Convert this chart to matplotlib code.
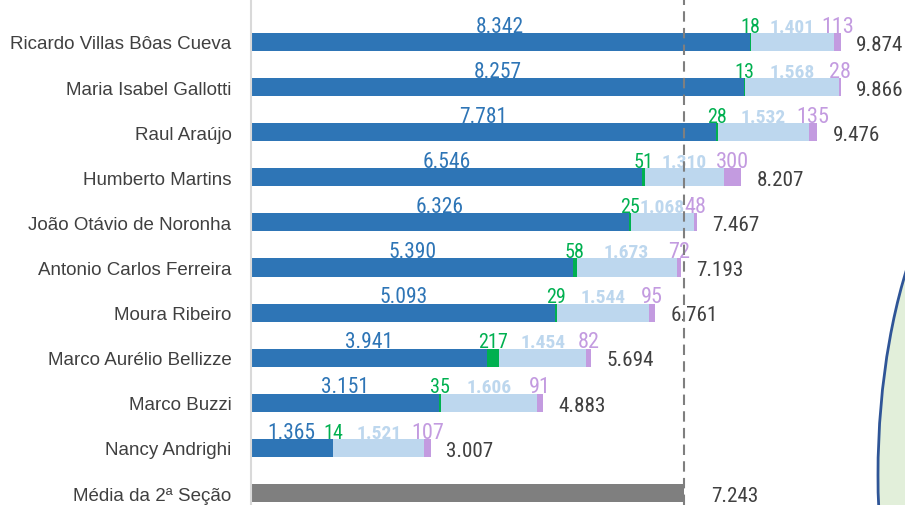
import matplotlib.pyplot as plt
from matplotlib import font_manager
from matplotlib.patches import Ellipse
import numpy as np

plt.rcParams['font.family'] = ['Liberation Sans', 'DejaVu Sans']

names = ["Ricardo Villas Bôas Cueva", "Maria Isabel Gallotti", "Raul Araújo",
         "Humberto Martins", "João Otávio de Noronha", "Antonio Carlos Ferreira",
         "Moura Ribeiro", "Marco Aurélio Bellizze", "Marco Buzzi", "Nancy Andrighi"]
avg_name = "Média da 2ª Seção"

blue = [8342, 8257, 7781, 6546, 6326, 5390, 5093, 3941, 3151, 1365]
green = [18, 13, 28, 51, 25, 58, 29, 217, 35, 14]
light = [1401, 1568, 1532, 1310, 1068, 1673, 1544, 1454, 1606, 1521]
purple = [113, 28, 135, 300, 48, 72, 95, 82, 91, 107]
totals = [9874, 9866, 9476, 8207, 7467, 7193, 6761, 5694, 4883, 3007]
media = 7243

C_BLUE = '#2E75B6'
C_GREEN = '#00B050'
C_LIGHT = '#BDD7EE'
C_PURPLE = '#C39BE0'
C_TEXT = '#404040'


def fmt(v):
    return f"{v:,}".replace(",", ".")


# look for a narrow face for the data labels (Excel used Arial Narrow)
def find_narrow(bold=False):
    files = [f.fname for f in font_manager.fontManager.ttflist]
    keys = ['liberationsansnarrow', 'arialnarrow', 'robotocondensed',
            'opensanscondensed', 'dejavusanscondensed']
    for k in keys:
        for fn in files:
            low = fn.lower().replace('-', '').replace('_', '')
            base = low.rsplit('/', 1)[-1]
            if k in base and ('bold' in base) == bold and 'italic' not in base \
                    and 'oblique' not in base and 'light' not in base:
                return fn
    return None


nf = find_narrow()
nfb = find_narrow(bold=True) or nf
if nf:
    lab = font_manager.FontProperties(fname=nf)
    labb = font_manager.FontProperties(fname=nfb)
    s_tot, s_blue, s_green, s_light, s_purp = 15.2, 15.5, 14.5, 14, 16
else:
    lab = font_manager.FontProperties(family='Liberation Sans')
    labb = font_manager.FontProperties(family='Liberation Sans', weight='bold')
    s_tot, s_blue, s_green, s_light, s_purp = 13, 13, 12, 11, 13

fig = plt.figure(figsize=(9.05, 5.06), dpi=100)
ax = fig.add_axes([251 / 905, 0, 1 - 251 / 905, 1])

y = np.arange(len(names))
h = 0.4
b = np.array(blue)
g = np.array(green)
l = np.array(light)
p = np.array(purple)

ax.barh(y, b, height=h, color=C_BLUE)
ax.barh(y, g, left=b, height=h, color=C_GREEN)
ax.barh(y, l, left=b + g, height=h, color=C_LIGHT)
ax.barh(y, p, left=b + g + l, height=h, color=C_PURPLE)
ax.barh([len(names)], [media], height=h, color='#7F7F7F')

top = y - h / 2 - 0.03
for i in range(len(names)):
    ax.text(b[i] / 2, top[i], fmt(blue[i]), ha='center', va='baseline',
            color=C_BLUE, fontproperties=lab, fontsize=s_blue)
    ax.text(b[i] + g[i] / 2, top[i], fmt(green[i]), ha='center', va='baseline',
            color=C_GREEN, fontproperties=lab, fontsize=s_green)
    ax.text(b[i] + g[i] + l[i] / 2, top[i], fmt(light[i]), ha='center', va='baseline',
            color=C_LIGHT, fontproperties=labb, fontsize=s_light)
    ax.text(b[i] + g[i] + l[i] + p[i] / 2, top[i], fmt(purple[i]), ha='center', va='baseline',
            color=C_PURPLE, fontproperties=lab, fontsize=s_purp)
    ax.annotate(fmt(totals[i]), (totals[i], y[i] + 0.05), xytext=(11, 0),
                textcoords='offset points', ha='left', va='center',
                color=C_TEXT, fontproperties=lab, fontsize=s_tot)

ax.annotate(fmt(media), (media, len(names) + 0.05), xytext=(20, 0),
            textcoords='offset points', ha='left', va='center',
            color=C_TEXT, fontproperties=lab, fontsize=s_tot)

ax.axvline(media, color='#7F7F7F', lw=1.5, ls=(0, (5, 3)), zorder=3)

ax.set_yticks(list(y) + [len(names)])
ax.set_yticklabels(names + [avg_name], fontsize=13.5, color=C_TEXT)
ax.tick_params(axis='y', length=0, pad=14)
ax.set_xticks([])
ax.set_xlim(0, 10944)
ax.set_ylim(10.266, -0.953)
for s in ['top', 'right', 'bottom']:
    ax.spines[s].set_visible(False)
ax.spines['left'].set_color('#D9D9D9')
ax.spines['left'].set_linewidth(1.5)

ell = Ellipse((1028 / 905, 30 / 506), 300 / 905, 700 / 506, transform=fig.transFigure,
              facecolor='#E2EFDA', edgecolor='#2F5597', lw=2, clip_on=False)
ax.add_patch(ell)

fig.savefig('out.png', dpi=100)
